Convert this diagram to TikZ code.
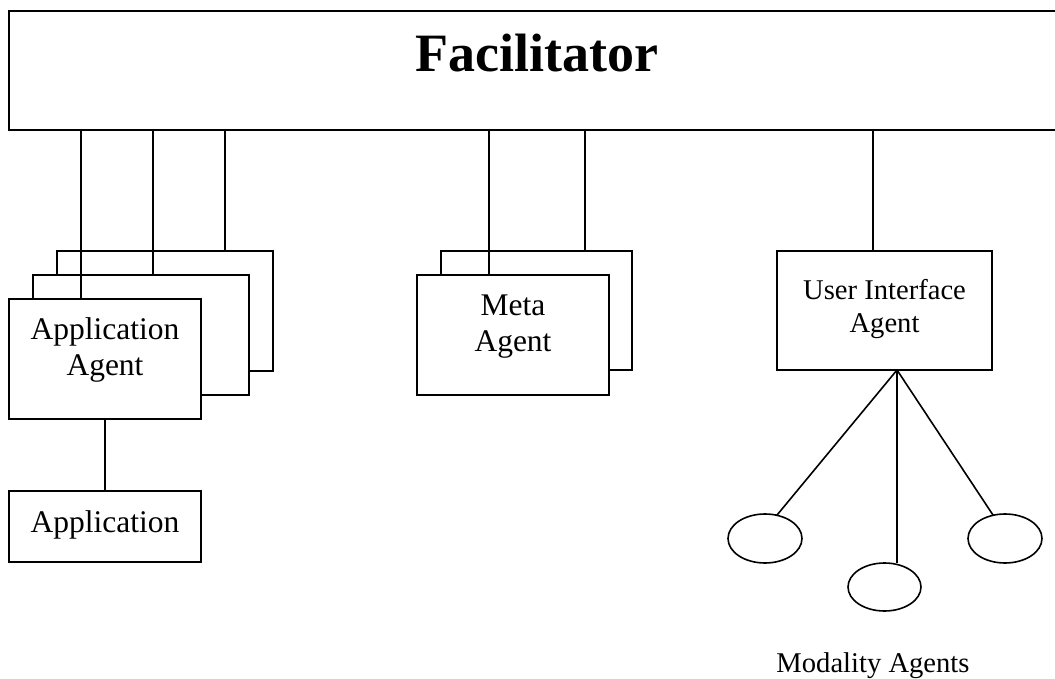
\documentclass[tikz,border=0pt]{standalone}
\usepackage{fontspec}
\setmainfont{Liberation Serif}
\usetikzlibrary{shapes.geometric}
\begin{document}
\begin{tikzpicture}[x=1pt,y=-1pt,
  agentbox/.style={draw, fill=white, line width=2.3pt, rectangle, inner sep=0pt, outer sep=0pt},
  modality/.style={draw, fill=white, line width=1.6pt, ellipse, inner sep=0pt, outer sep=0pt,
                   minimum width=74pt, minimum height=49pt},
  link/.style={line width=2.3pt},
  fanlink/.style={line width=1.6pt},
  bigtext/.style={font=\fontsize{31.5pt}{36pt}\selectfont, inner sep=0pt, align=center},
  smalltext/.style={font=\fontsize{28.6pt}{33pt}\selectfont, inner sep=0pt, align=center},
  titletext/.style={font=\fontsize{54pt}{60pt}\selectfont\bfseries, inner sep=0pt}]

% page
\fill[white] (0,0) rectangle (1055,679);
\clip (0,0) rectangle (1055,679);

% facilitator bar (runs off the right edge)
\node[agentbox, minimum width=1056pt, minimum height=119pt] (fac) at (537,70.5) {};
\node[titletext, anchor=base] (factext) at (537,72) {Facilitator};

% stacked application agents, back to front
\node[agentbox, minimum width=216pt, minimum height=120pt] (app3) at (165,311) {};
\node[agentbox, minimum width=216pt, minimum height=120pt] (app2) at (141,335) {};
\node[agentbox, minimum width=192pt, minimum height=120pt] (app1) at (105,359) {};
% base anchor of a two-line node sits on its last line
\node[bigtext, anchor=base] (apptext) at (105,375) {Application\\Agent};

% application
\node[agentbox, minimum width=192pt, minimum height=71pt] (appl) at (105,526.5) {};
\node[bigtext, anchor=base] (appltext) at (105,532) {Application};

% stacked meta agents
\node[agentbox, minimum width=191pt, minimum height=119pt] (meta2) at (536.5,310.5) {};
\node[agentbox, minimum width=192pt, minimum height=120pt] (meta1) at (513,335) {};
\node[bigtext, anchor=base] (metatext) at (513,351) {Meta\\Agent};

% user interface agent
\node[agentbox, minimum width=215pt, minimum height=119pt] (ui) at (884.5,310.5) {};
\node[smalltext, anchor=base] (uitext) at (884.5,332) {User Interface\\Agent};

% modality agents
\node[modality] (m1) at (765,538.5) {};
\node[modality, minimum width=73pt, minimum height=48pt] (m2) at (884.5,587) {};
\node[modality] (m3) at (1005,538.5) {};
\node[smalltext, anchor=base] (modtext) at (873,672) {Modality Agents};

% connections to the facilitator
\coordinate (p1) at ([xshift=72pt]app1.north west);
\coordinate (p2) at ([xshift=120pt]app2.north west);
\coordinate (p3) at ([xshift=168pt]app3.north west);
\coordinate (q1) at ([xshift=72pt]meta1.north west);
\coordinate (q2) at ([xshift=144pt]meta2.north west);
\coordinate (u1) at ([xshift=96pt]ui.north west);
\foreach \p in {p1,p2,p3,q1,q2,u1}
  \draw[link] (\p) -- (\p |- fac.south);

% application agent to application
\draw[link] (app1.south) -- (appl.north);

% user interface agent to modality agents
\coordinate (hub) at ([xshift=12.5pt]ui.south);
\draw[fanlink] (hub) -- (m1.63);
\draw[fanlink] (hub) -- (m3.117);
\draw[fanlink] (hub) -- (hub |- m2.north);
\end{tikzpicture}
\end{document}
